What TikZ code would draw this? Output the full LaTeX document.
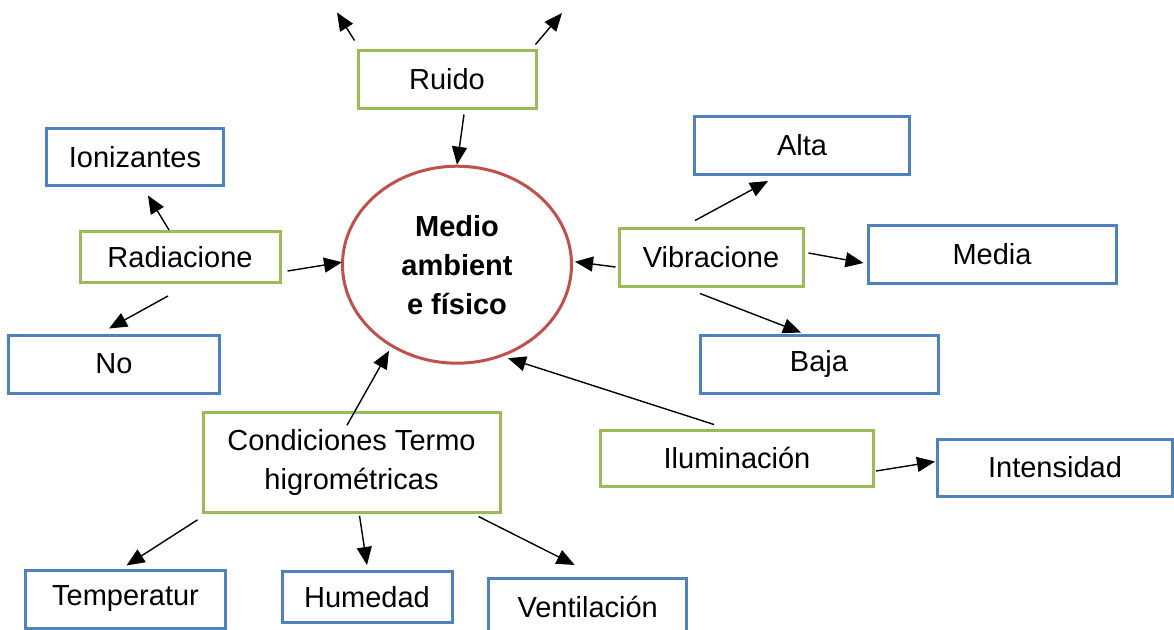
\documentclass[tikz,border=0pt]{standalone}
\usepackage{fontspec}
\setmainfont{Liberation Sans}
\usetikzlibrary{arrows.meta,shapes.geometric}
\definecolor{verde}{HTML}{9BBB59}
\definecolor{azul}{HTML}{4F81BD}
\definecolor{rojo}{HTML}{C0504D}
\begin{document}
\begin{tikzpicture}[x=0.5pt,y=-0.5pt,
        dims/.style 2 args={minimum width=#1*0.5pt,minimum height=#2*0.5pt},
        tema/.style={draw=verde,line width=1.5pt,inner sep=0pt,align=center},
        item/.style={draw=azul,line width=1.5pt,inner sep=0pt,align=center},
        arr/.style={-{Triangle[length=9pt,width=7.5pt]},line width=0.7pt}]
             \fontsize{14.5}{19.5}\selectfont
             \useasboundingbox (0,0) rectangle (1174,629);
             % centro
             \node[ellipse,draw=rojo,line width=1.5pt,inner sep=0pt,dims={229}{197},align=center,font=\bfseries]
                   (medio) at (457,264.7) {Medio\\ambient\\e físico};
             % temas
             \node[tema,dims={178}{58}]  (ruido) at (447,79)      {Ruido};
             \node[tema,dims={200}{51}]  (radia) at (180,257)     {Radiacione};
             \node[tema,dims={184}{58}]  (vibra) at (711,257)     {Vibracione};
             \node[tema,dims={273}{56}]  (ilum)  at (737,458)     {Iluminación};
             \node[tema,dims={297}{100}] (cond)  at (351.5,462.7) {Condiciones Termo\\higrométricas};
             % subtemas
             \node[item,dims={177}{57}] (ion)   at (135,157)     {Ionizantes};
             \node[item,dims={211}{58}] (no)    at (114,364)     {No};
             \node[item,dims={215}{58}] (alta)  at (802,145.5)   {Alta};
             \node[item,dims={248}{58}] (media) at (992,254)     {Media};
             \node[item,dims={238}{58}] (baja)  at (819,364)     {Baja};
             \node[item,dims={235}{57}] (inten) at (1055,467.5)  {Intensidad};
             \node[item,dims={200}{58}] (temp)  at (125.5,599)   {Temperatur};
             \node[item,dims={170}{51}] (hum)   at (367,597)     {Humedad};
             \node[item,dims={198}{57}] (vent)  at (587.7,606.5) {Ventilación};
             \coordinate (rtl) at (337,12.5);
             \coordinate (rtr) at (562,13);
             % flechas
             \draw[arr] ([shift={(-2,-8)}]ruido.north west) -- (rtl);
             \draw[arr] ([shift={(-2,-4)}]ruido.north east) -- (rtr);
             \draw[arr] ([shift={(17,5)}]ruido.south) -- (medio.north);
             \draw[arr] ([shift={(-11,0)}]radia.north) -- ([shift={(13,8.5)}]ion.south);
             \draw[arr] ([shift={(-12,12)}]radia.south) -- ([shift={(-5,-5)}]no.north);
             \draw[arr] ([shift={(6,14)}]radia.east) -- ([shift={(1,-2.5)}]medio.west);
             \draw[arr] ([shift={(-2,10)}]vibra.west) -- ([shift={(2,-3)}]medio.east);
             \draw[arr] ([shift={(-16,-6)}]vibra.north) -- ([shift={(-34,5)}]alta.south);
             \draw[arr] ([shift={(4,-4)}]vibra.east) -- ([shift={(-3,9)}]media.west);
             \draw[arr] ([shift={(-11,6)}]vibra.south) -- ([shift={(-18,-1)}]baja.north);
             \draw[arr] ([shift={(-23,-4)}]ilum.north) -- ([shift={(51,-6.5)}]medio.south);
             \draw[arr] ([shift={(1,13)}]ilum.east) -- ([shift={(-1,-6)}]inten.west);
             \draw[arr] ([shift={(-4.5,14)}]cond.north) -- ([shift={(-68,-14)}]medio.south);
             \draw[arr] ([shift={(-4,5.6)}]cond.south west) -- ([shift={(1,-3)}]temp.north);
             \draw[arr] ([shift={(8,1.5)}]cond.south) -- ([shift={(0,-5)}]hum.north);
             \draw[arr] ([shift={(-23,2.3)}]cond.south east) -- ([shift={(-13,-11.5)}]vent.north);
\end{tikzpicture}
\end{document}
